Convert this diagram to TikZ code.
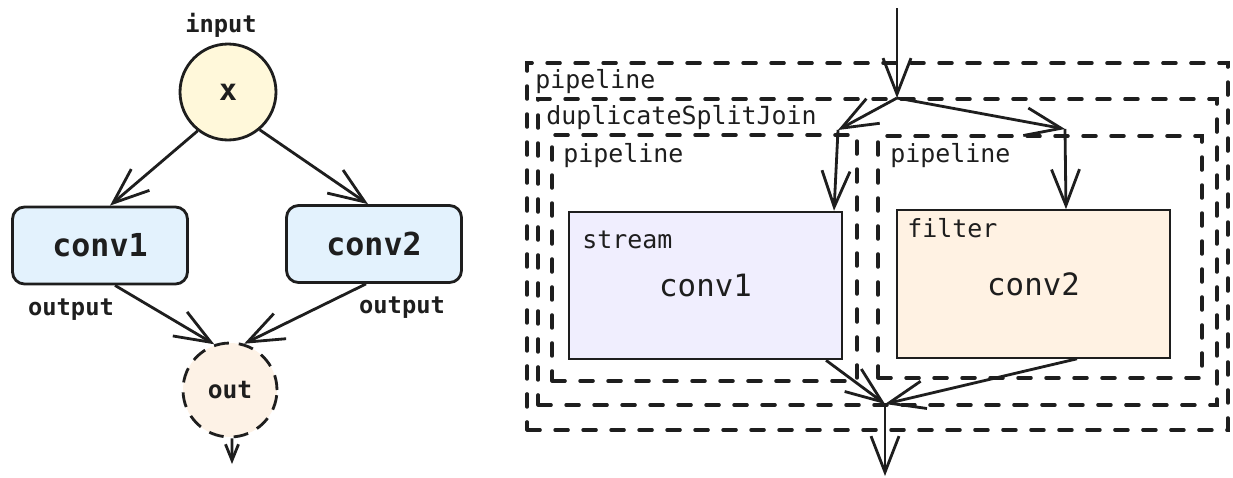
\documentclass[tikz,border=0pt]{standalone}
\usepackage{fontspec}
\setmonofont{DejaVu Sans Mono}
\usepackage{xcolor}
\usepackage{tikz}
\usetikzlibrary{arrows.meta, positioning}

\definecolor{inkc}{HTML}{1E1E1E}
\definecolor{inputfill}{HTML}{FFF8DA}
\definecolor{convfill}{HTML}{E3F2FD}
\definecolor{outfill}{HTML}{FDF2E6}
\definecolor{streamfill}{HTML}{F0EEFE}
\definecolor{filterfill}{HTML}{FFF2E3}

\begin{document}
\begin{tikzpicture}[x=0.02cm, y=-0.02cm,
  tensor/.style={circle, draw=inkc, line width=1.6pt, inner sep=0pt, text=inkc},
  layer/.style={rectangle, draw=inkc, rounded corners=0.24cm, line width=1.6pt, fill=convfill, minimum width=3.5cm, minimum height=1.54cm, text=inkc, font=\ttfamily\bfseries\fontsize{18}{21}\selectfont},
  tag/.style={inner sep=0pt, text=inkc, font=\ttfamily\fontsize{13.5}{16}\selectfont},
  group/.style={rectangle, draw=inkc, line width=2pt, dash pattern=on 0.26cm off 0.3cm, line cap=round, inner sep=0pt},
  kernel/.style={rectangle, draw=inkc, line width=1.2pt, minimum width=5.46cm, minimum height=2.95cm, text=inkc, font=\ttfamily\fontsize{17.5}{21}\selectfont},
  line/.style={draw=inkc, line width=1.6pt},
  flow/.style={line, -{Straight Barb[length=0.72cm, width=0.56cm]}},
  smallflow/.style={line, -{Straight Barb[length=0.32cm, width=0.26cm]}}
]
  \useasboundingbox (0,0) rectangle (1233,477);

  % left: the model graph
  \node[tensor, fill=inputfill, minimum size=1.92cm, font=\ttfamily\bfseries\fontsize{17}{20}\selectfont] (x) at (228,92) {x};
  \node[tag, anchor=base, font=\ttfamily\bfseries\fontsize{13.5}{16}\selectfont] (inlbl) at (221,32) {input};

  \node[layer] (c1) at (100,245.5) {conv1};
  \node[layer] (c2) at (374,244) {conv2};

  \node[tensor, fill=outfill, dash pattern=on 0.3cm off 0.2cm, minimum size=1.88cm, font=\ttfamily\bfseries\fontsize{14}{17}\selectfont] (out) at (230,390) {out};
  \coordinate (outend) at (232,464);

  \node[tag, anchor=base, font=\ttfamily\bfseries\fontsize{13.5}{16}\selectfont] (o1lbl) at (71,315) {output};
  \node[tag, anchor=base, font=\ttfamily\bfseries\fontsize{13.5}{16}\selectfont] (o2lbl) at (402,313) {output};

  \path[flow] (x.232) -- ([xshift=0.2cm]c1.north);
  \path[flow] (x.310) -- ([xshift=-0.12cm]c2.north);
  \path[flow] ([xshift=0.3cm]c1.south) -- (out.109);
  \path[flow] ([xshift=-0.16cm]c2.south) -- (out.73);
  \path[smallflow] ([xshift=0.04cm]out.south) -- (outend);

  % right: the nested stream graph
  \node[group, minimum width=14.02cm, minimum height=7.34cm] (pipe) at (877.5,246.5) {};
  \node[group, minimum width=13.58cm, minimum height=6.12cm] (dsj) at (877.5,252) {};
  \node[group, minimum width=6.1cm, minimum height=4.92cm] (pipeL) at (704.5,258) {};
  \node[group, minimum width=6.48cm, minimum height=4.84cm] (pipeR) at (1040,257) {};

  \node[tag, anchor=base west, font=\ttfamily\fontsize{14.2}{17}\selectfont] (pipelbl) at (535,88) {pipeline};
  \node[tag, anchor=base west, font=\ttfamily\fontsize{14.2}{17}\selectfont] (dsjlbl) at (546,124) {duplicateSplitJoin};
  \node[tag, anchor=base west, font=\ttfamily\fontsize{14.2}{17}\selectfont] (pipeLlbl) at (563,162) {pipeline};
  \node[tag, anchor=base west, font=\ttfamily\fontsize{14.2}{17}\selectfont] (pipeRlbl) at (890,162) {pipeline};

  \node[kernel, fill=streamfill] (stream) at (705.5,285.5) {conv1};
  \node[kernel, fill=filterfill] (filter) at (1033.5,284) {conv2};
  \node[tag, anchor=base west, font=\ttfamily\fontsize{14.2}{17}\selectfont] (streamlbl) at (582,248) {stream};
  \node[tag, anchor=base west, font=\ttfamily\fontsize{14.2}{17}\selectfont] (filterlbl) at (907,237) {filter};

  \coordinate (top) at (897,8);
  \coordinate (split) at (897,98);
  \coordinate (splitL) at (838,130);
  \coordinate (splitR) at (1065,129);
  \coordinate (join) at (885,404);
  \coordinate (bottom) at (885,476);

  \path[flow] (top) -- (split);
  \path[flow] (split) -- (splitL);
  \path[flow] (split) -- (splitR);
  \path[flow] (splitL) -- ([xshift=-0.18cm]stream.north east);
  \path[flow] (splitR) -- ([xshift=0.65cm]filter.north);
  \path[flow] ([xshift=-0.34cm]stream.south east) -- (join);
  \path[flow] ([xshift=0.87cm]filter.south) -- (join);
  \path[flow] (join) -- (bottom);
\end{tikzpicture}
\end{document}
